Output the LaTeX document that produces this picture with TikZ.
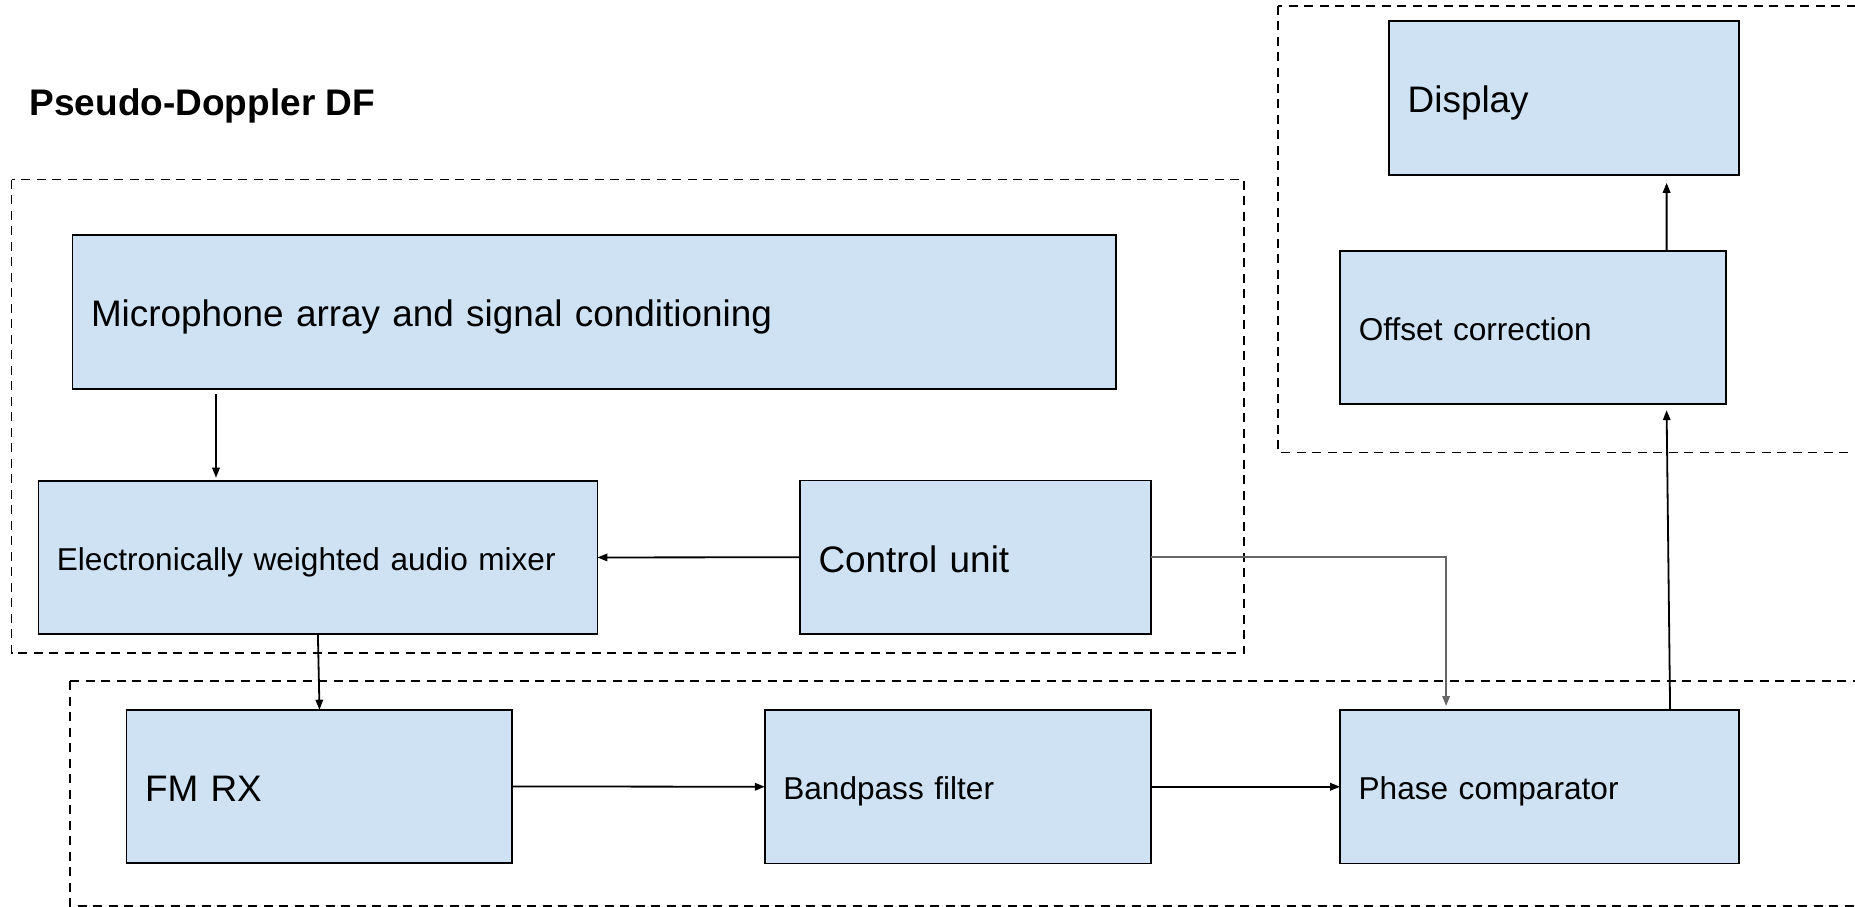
\documentclass[tikz,border=0pt]{standalone}
\usepackage{fontspec}
\setmainfont{Liberation Sans}
\usetikzlibrary{arrows.meta}
\definecolor{boxblue}{HTML}{CFE2F3}
\definecolor{linegray}{HTML}{666666}
\begin{document}
\begin{tikzpicture}[x=1pt, y=-1pt,
  box/.style={draw=black, fill=boxblue, line width=1.8pt, inner xsep=18.5pt,
    inner ysep=0pt, minimum height=153.5pt, align=left, anchor=north west,
    outer sep=0pt},
  big/.style={font=\fontsize{36.9}{40}\selectfont, text height=29.5pt, text depth=0pt},
  small/.style={font=\fontsize{31.6}{34}\selectfont, text height=25.3pt, text depth=0pt},
  grp/.style={draw=black, line width=1.8pt, dash pattern=on 9pt off 6.5pt},
  arr/.style={-{Triangle[length=10pt,width=7.5pt]}, line width=1.8pt, draw=black},
  garr/.style={arr, draw=linegray}]
\useasboundingbox (0,0) rectangle (1855,907);
\fill[white] (0,0) rectangle (1855,907);

% title
\node[anchor=base west, inner sep=0pt, font=\fontsize{37}{40}\selectfont\bfseries]
  (title) at (29.5,115) {Pseudo-Doppler DF};

% dashed groupings
\draw[grp] (11.5,179.5) rectangle (1244.3,653.3);
\draw[grp] (70,681) rectangle (1880,906);
\draw[grp] (1278.3,6) rectangle (1880,452.5);

% blocks
\node[box, big, text width=1006.5pt] (mic) at (72.5,235.3)
  {Microphone array and signal conditioning};
\node[box, small, text width=522pt] (mixer) at (38.4,480.7)
  {Electronically weighted audio mixer};
\node[box, big, text width=313.8pt] (control) at (800,480.5) {Control unit};
\node[box, big, text width=313pt] (display) at (1389.2,21.3) {Display};
\node[box, small, text width=349pt] (offset) at (1340.3,250.7) {Offset correction};
\node[box, big, text width=348.7pt] (fm) at (126.5,709.7) {FM RX};
\node[box, small, text width=349pt] (bp) at (764.8,710) {Bandpass filter};
\node[box, small, text width=361.5pt] (phase) at (1340.1,710) {Phase comparator};

% signal flow
\draw[arr] ([xshift=143.5pt,yshift=-5pt]mic.south west)
  -- ([xshift=177.6pt,yshift=3pt]mixer.north west);
\draw[arr] (control.west) -- (mixer.east);
\draw[arr] ([xshift=279.5pt]mixer.south west) -- ([xshift=193pt]fm.north west);
\draw[arr] (fm.east) -- (bp.west);
\draw[arr] (bp.east) -- (phase.west);
\draw[garr] (control.east) -| ([xshift=106pt,yshift=4pt]phase.north west);
\draw[arr] ([xshift=330pt]phase.north west)
  -- ([xshift=326.3pt,yshift=-6pt]offset.south west);
\draw[arr] ([xshift=326.3pt]offset.north west)
  -- ([xshift=277.4pt,yshift=-8pt]display.south west);
\end{tikzpicture}
\end{document}
